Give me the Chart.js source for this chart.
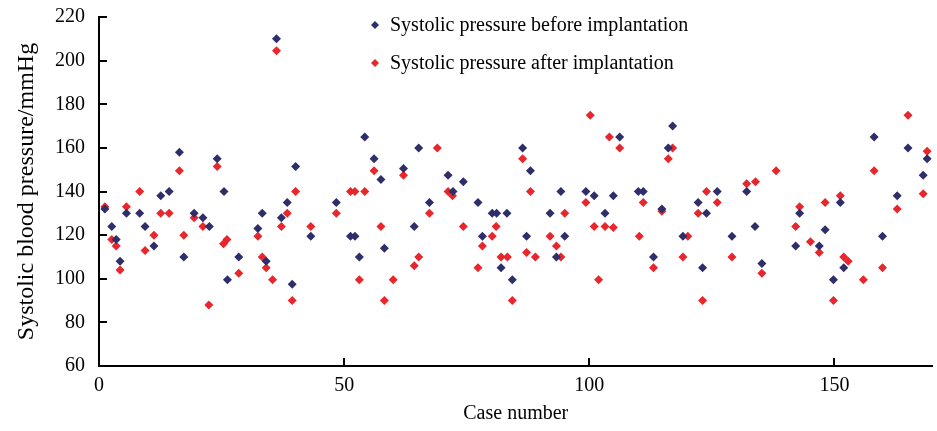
<!DOCTYPE html>
<html lang="en">
<head>
    <meta charset="UTF-8">
    <script src="https://cdn.jsdelivr.net/npm/chart.js"></script>
    <title>Systolic blood pressure</title>
    <style>
        body { margin: 0; background: #fff; }
        .grafico { width: 937px; height: 431px; }
    </style>
</head>
<body>
    <div class="grafico">
        <canvas id="myChart"></canvas>
    </div>

<script>
    // case number / pressure before implantation
    const caseBefore = [1.2, 2.6, 3.5, 4.3, 5.6, 8.3, 9.4, 11.2, 12.6, 14.3, 16.4, 17.3, 19.4, 21.2, 22.5, 24.1, 25.5, 26.2,
        28.5, 32.4, 33.3, 34.1, 36.2, 37.2, 38.4, 39.4, 40.1, 43.2, 48.4, 51.3, 52.2, 53.1, 54.2, 56.1, 57.5, 58.2,
        62.1, 64.3, 65.2, 67.4, 71.2, 72.2, 74.3, 77.3, 78.2, 80.2, 81.1, 82.0, 83.2, 84.3, 86.4, 87.2, 88.0,
        92.0, 93.3, 94.2, 95.0, 99.3, 101.0, 103.2, 104.9, 106.2, 110.0, 111.0, 113.1, 114.8, 116.1, 117.0,
        119.1, 122.2, 123.1, 123.9, 126.1, 129.1, 132.1, 133.8, 135.2, 142.1, 142.9, 146.9, 148.1, 149.8,
        151.2, 151.9, 158.1, 159.8, 162.8, 165.0, 168.1, 168.9];
    const sbpBefore = [132, 124, 118, 108, 130, 130, 124, 115, 138, 140, 158, 110, 130, 128, 124, 155, 140, 99.5,
        110, 123, 130, 108, 210, 128, 135, 97.5, 151.5, 119.5, 135, 119.5, 119.5, 110, 165, 155, 145.5, 114,
        150.5, 124, 160, 135, 147.5, 140, 144.5, 135, 119.5, 130, 130, 105, 130, 99.5, 160, 119.5, 149.5,
        130, 110, 140, 119.5, 140, 138, 130, 138, 165, 140, 140, 110, 132, 160, 170,
        119.5, 135, 105, 130, 140, 119.5, 140, 124, 107, 115, 130, 115, 122.5, 99.5,
        135, 105, 165, 119.5, 138, 160, 147.5, 155];

    // case number / pressure after implantation
    const caseAfter = [1.2, 2.6, 3.5, 4.3, 5.6, 8.3, 9.4, 11.2, 12.6, 14.3, 16.4, 17.3, 19.4, 21.2, 22.4, 24.1, 25.4, 26.1,
        28.5, 32.4, 33.3, 34.1, 35.4, 36.2, 37.2, 38.4, 39.4, 40.1, 43.2, 48.4, 51.3, 52.2, 53.1, 54.2, 56.1,
        57.5, 58.2, 60.0, 62.1, 64.3, 65.2, 67.4, 69.0, 71.2, 72.1, 74.3, 77.3, 78.2, 80.2, 81.0, 82.0, 83.3,
        84.3, 86.4, 87.2, 88.0, 89.0, 92.0, 93.3, 94.2, 95.0, 99.3, 100.2, 101.0, 101.9, 103.2, 104.1, 104.9,
        106.2, 110.2, 111.0, 113.1, 114.8, 116.1, 117.0, 119.1, 120.1, 122.2, 123.1, 123.9, 126.1, 129.1,
        132.1, 133.9, 135.2, 138.1, 142.1, 142.9, 145.1, 146.9, 148.1, 149.8, 151.2, 151.9, 152.8, 155.9,
        158.1, 159.8, 162.8, 165.0, 168.1, 168.9];
    const sbpAfter = [133, 118, 115, 104, 133, 140, 113, 120, 130, 130, 149.5, 120, 128, 124, 88, 151.5, 116, 118,
        102.5, 119.5, 110, 105, 99.5, 204.5, 124, 130, 90, 140, 124, 130, 140, 140, 99.5, 140, 149.5,
        124, 90, 99.5, 147.5, 106, 110, 130, 160, 140, 138, 124, 105, 115, 119.5, 124, 110, 110,
        90, 155, 112, 140, 110, 119.5, 115, 110, 130, 135, 175, 124, 99.5, 124, 165, 123.5,
        160, 119.5, 135, 105, 131, 155, 160, 110, 119.5, 130, 90, 140, 135, 110,
        143.5, 144.5, 102.5, 149.5, 124, 133, 117, 112, 135, 90, 138, 110, 108, 99.5,
        149.5, 105, 132, 175, 139, 158.5];

    const yTicks = [60, 80, 100, 120, 140, 160, 180, 200, 220];
    const xTicks = [0, 50, 100, 150];

    const fonte = 'Liberation Serif, Times New Roman, serif';

    function montarPontos(xs, ys) {
        let pts = [];
        for (let i = 0; i < xs.length; i++) {
            pts.push({ x: xs[i], y: ys[i] });
        }
        return pts;
    }

    // inward tick marks on both axes
    const ticksDentro = {
        id: 'ticksDentro',
        afterDraw(chart) {
            const ctx = chart.ctx;
            const area = chart.chartArea;
            const sx = chart.scales.x;
            const sy = chart.scales.y;
            ctx.save();
            ctx.strokeStyle = '#000';
            ctx.lineWidth = 2;
            ctx.beginPath();
            yTicks.forEach(v => {
                const py = Math.round(sy.getPixelForValue(v));
                ctx.moveTo(area.left, py);
                ctx.lineTo(area.left + 8, py);
            });
            xTicks.forEach(v => {
                if (v === 0) return;
                const px = Math.round(sx.getPixelForValue(v));
                ctx.moveTo(px, area.bottom);
                ctx.lineTo(px, area.bottom - 8);
            });
            ctx.stroke();
            ctx.restore();
        }
    };

    // legend drawn inside the plot area
    const legenda = {
        id: 'legenda',
        afterDraw(chart) {
            const ctx = chart.ctx;
            ctx.save();
            ctx.font = '20px ' + fonte;
            ctx.textBaseline = 'middle';
            chart.data.datasets.forEach((ds, i) => {
                const y = 25 + i * 38;
                ctx.fillStyle = ds.backgroundColor;
                ctx.beginPath();
                ctx.moveTo(375 - 4, y); ctx.lineTo(375, y - 4); ctx.lineTo(375 + 4, y); ctx.lineTo(375, y + 4);
                ctx.closePath();
                ctx.fill();
                ctx.fillStyle = '#000';
                ctx.fillText(ds.label, 390, y + 1);
            });
            ctx.restore();
        }
    };

    const dados = {
        datasets: [{
            label: 'Systolic pressure before implantation',
            data: montarPontos(caseBefore, sbpBefore),
            backgroundColor: '#2d2e6a',
            pointStyle: 'rectRot',
            pointRadius: 4.5,
            pointBorderWidth: 0
        }, {
            label: 'Systolic pressure after implantation',
            data: montarPontos(caseAfter, sbpAfter),
            backgroundColor: '#e8262b',
            pointStyle: 'rectRot',
            pointRadius: 4.5,
            pointBorderWidth: 0
        }]
    };

    const options = {
        responsive: true,
        maintainAspectRatio: false,
        animation: false,
        layout: { padding: { top: 17, right: 1, left: 0, bottom: 0 } },
        plugins: {
            legend: { display: false },
            tooltip: { enabled: false }
        },
        scales: {
            x: {
                type: 'linear',
                min: 0,
                max: 170,
                afterBuildTicks: (scale) => {
                    scale.ticks = xTicks.map(v => ({ value: v }));
                },
                afterFit: (scale) => {
                    scale.height = 65;
                    scale.paddingLeft = 0;
                    scale.paddingRight = 0;
                },
                grid: { display: true, drawOnChartArea: false, drawTicks: false },
                border: { display: true, color: '#000', width: 2 },
                ticks: { color: '#000', font: { family: fonte, size: 20 }, padding: 8, maxRotation: 0 },
                title: {
                    display: true, text: 'Case number', color: '#000',
                    font: { family: fonte, size: 20 }, padding: { top: 0, bottom: 5 }
                }
            },
            y: {
                min: 60,
                max: 220,
                afterBuildTicks: (scale) => {
                    scale.ticks = yTicks.map(v => ({ value: v }));
                },
                afterFit: (scale) => {
                    scale.width = 99;
                    scale.paddingTop = 0;
                    scale.paddingBottom = 0;
                },
                grid: { display: true, drawOnChartArea: false, drawTicks: false },
                border: { display: true, color: '#000', width: 2 },
                ticks: { color: '#000', font: { family: fonte, size: 20 }, padding: 14 },
                title: {
                    display: true, text: 'Systolic blood pressure/mmHg', color: '#000',
                    font: { family: fonte, size: 24 }, padding: { top: 12, bottom: 0 }
                }
            }
        }
    };

    const config = {
        type: 'scatter',
        data: dados,
        options: options,
        plugins: [ticksDentro, legenda]
    };

    let myChart = new Chart(
        document.getElementById('myChart'),
        config
    );
</script>
</body>
</html>
